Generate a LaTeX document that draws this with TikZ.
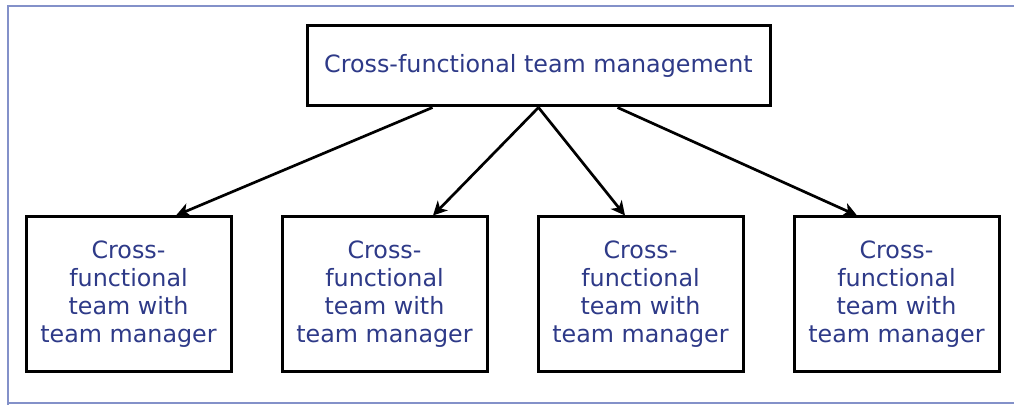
\documentclass[tikz,border=0pt]{standalone}
\usepackage{fontspec}
\setmainfont{DejaVu Sans}
\usepackage{tikz}
\usetikzlibrary{calc, positioning, arrows.meta}
\definecolor{textblue}{HTML}{2E3A88}
\definecolor{frameblue}{HTML}{8391C9}
\def\teamsep{128pt}
\tikzstyle{box}=[draw=black, line width=1.5pt, fill=white, text=textblue, align=center, inner sep=0pt,
  font=\fontsize{11.9}{14}\selectfont]
\tikzstyle{head box}=[box, minimum width=231.5pt, minimum height=40pt]
\tikzstyle{team box}=[box, minimum width=102.5pt, minimum height=77.5pt]
\tikzstyle{link}=[-{Stealth[length=7pt,width=7pt,inset=2pt]}, line width=1.35pt]
\tikzstyle{frame}=[draw=frameblue, line width=0.75pt]

\begin{document}
\begin{tikzpicture}[x=0.5pt, y=-0.5pt]
			\useasboundingbox (0,0) rectangle (1014,405);

			% Draw the frame lines
			\draw[frame] (8,405) -- (8,6) -- (1014,6);
			\draw[frame] (8,403) -- (1014,403);

			% Draw the management box
			\node[head box] (mgmt) at (538.5,66) {Cross-functional team management};

			% Draw the team boxes
			\foreach \name in {1,...,4}
			\node[team box] (team-\name) at (\name*256-127.5, 294.5)
				{Cross-\\functional\\team with\\team manager};

			% Connect the management box with every team box
			\draw[link] ([xshift=-53pt]mgmt.south) -- ([xshift=23.75pt]team-1.north);
			\draw[link] (mgmt.south) -- ([xshift=24.25pt]team-2.north);
			\draw[link] (mgmt.south) -- ([xshift=-7.75pt]team-3.north);
			\draw[link] ([xshift=39.5pt]mgmt.south) -- ([xshift=-19.75pt]team-4.north);
		\end{tikzpicture}
\end{document}
